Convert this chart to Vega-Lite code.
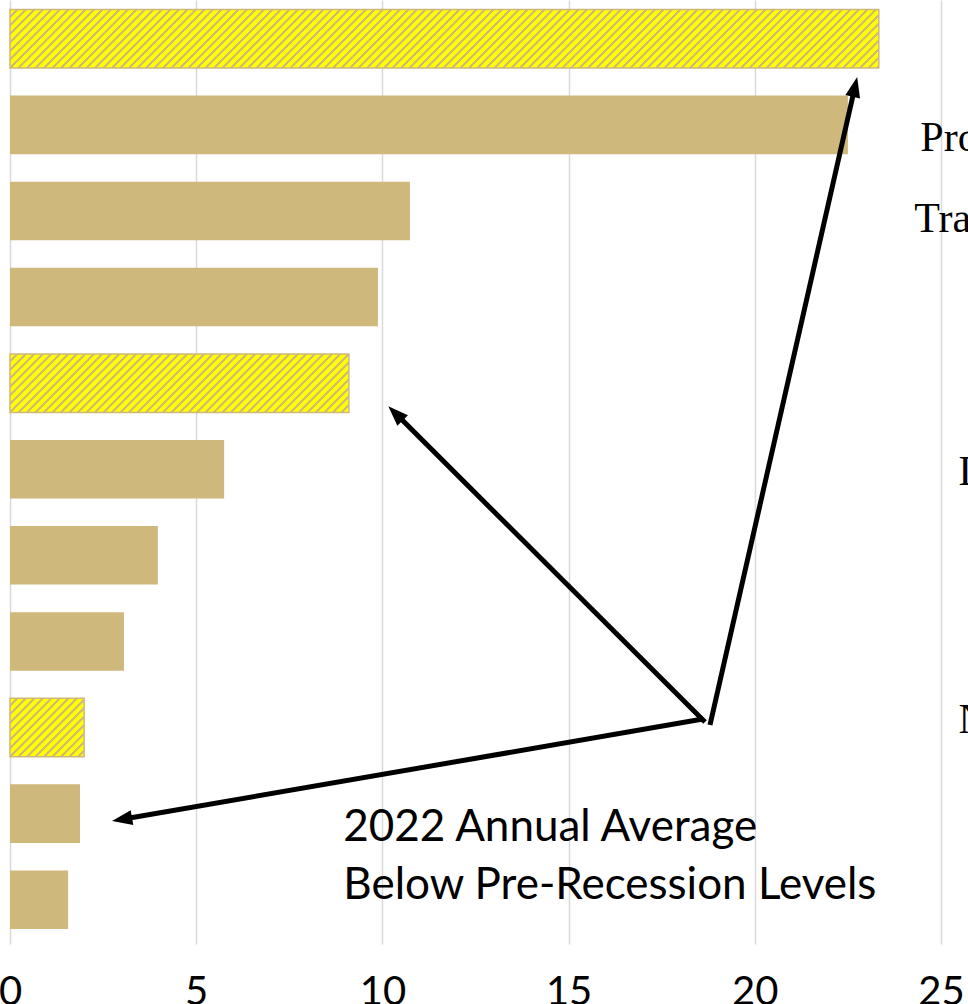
{
"$schema":"https://vega.github.io/schema/vega-lite/v6.json",
"width":931,"height":944,
"autosize":{"type":"none"},
"padding":{"left":10,"right":27,"top":0,"bottom":60},
"background":"white",
"config":{"view":{"stroke":null}},
"datasets":{
"bars":[
{"industry":"Leisure and Hospitality","value":23.33,"below":true},
{"industry":"Professional and Business Services","value":22.5,"below":false},
{"industry":"Trade, Transportation, and Utilities","value":10.74,"below":false},
{"industry":"Education and Health Services","value":9.88,"below":false},
{"industry":"Manufacturing","value":9.1,"below":true},
{"industry":"Construction","value":5.75,"below":false},
{"industry":"Financial Activities","value":3.97,"below":false},
{"industry":"Other Services","value":3.06,"below":false},
{"industry":"Government","value":1.99,"below":true},
{"industry":"Information","value":1.88,"below":false},
{"industry":"Natural Resources and Mining","value":1.56,"below":false}
],
"arrows":[
{"id":1,"x":18.797,"y":7.97,"x2":22.696,"y2":0.5461},
{"id":2,"x":18.663,"y":7.936,"x2":10.33,"y2":4.342},
{"id":3,"x":18.609,"y":7.901,"x2":2.978,"y2":9.069}
],
"notes":[
{"x":8.95,"row":9.3175,"text":"2022 Annual Average"},
{"x":8.95,"row":9.9911,"text":"Below Pre-Recession Levels"}
],
"sidelabels":[
{"x":24.444,"row":1.3034,"text":"Professional and Business Services"},
{"x":24.283,"row":2.2443,"text":"Trade, Transportation, and Utilities"},
{"x":25.47,"row":5.1828,"text":"Leisure and Hospitality"},
{"x":25.47,"row":8.0633,"text":"Natural Resources and Mining"}
]
},
"layer":[
{
"data":{"name":"bars"},
"mark":{"type":"bar","stroke":"#cfb87c"},
"encoding":{
"y":{"field":"industry","type":"nominal","sort":null,"axis":null,"scale":{"paddingInner":0.32,"paddingOuter":0.1423,"align":0.388}},
"x":{"field":"value","type":"quantitative","scale":{"domain":[0,25],"nice":false,"zero":true},
"axis":{"values":[0,5,10,15,20,25],"title":null,"domain":false,"ticks":false,"tickSize":0,"grid":true,"gridColor":"#d9d9d9","gridWidth":1.5,"labelFont":"Lato","labelFontSize":40,"labelColor":"#000000","labelPadding":28,"labelFlush":false,"labelOverlap":false,"labelBound":false}},
"strokeWidth":{"condition":{"test":"datum.below","value":1.5},"value":0},
"fill":{"condition":[
{"test":"datum.industry === 'Leisure and Hospitality'","value":{"gradient":"linear","x1":0,"y1":0,"x2":1.21744,"y2":0.08205,"stops":[
{"offset":0,"color":"#cfb87c"},{"offset":0.0008,"color":"#ffff00"},{"offset":0.0052,"color":"#ffff00"},{"offset":0.006,"color":"#cfb87c"},
{"offset":0.008,"color":"#cfb87c"},{"offset":0.0088,"color":"#ffff00"},{"offset":0.0132,"color":"#ffff00"},{"offset":0.014,"color":"#cfb87c"},
{"offset":0.016,"color":"#cfb87c"},{"offset":0.0168,"color":"#ffff00"},{"offset":0.0212,"color":"#ffff00"},{"offset":0.022,"color":"#cfb87c"},
{"offset":0.024,"color":"#cfb87c"},{"offset":0.0248,"color":"#ffff00"},{"offset":0.0292,"color":"#ffff00"},{"offset":0.03,"color":"#cfb87c"},
{"offset":0.032,"color":"#cfb87c"},{"offset":0.0328,"color":"#ffff00"},{"offset":0.0372,"color":"#ffff00"},{"offset":0.038,"color":"#cfb87c"},
{"offset":0.04,"color":"#cfb87c"},{"offset":0.0408,"color":"#ffff00"},{"offset":0.0452,"color":"#ffff00"},{"offset":0.046,"color":"#cfb87c"},
{"offset":0.048,"color":"#cfb87c"},{"offset":0.0488,"color":"#ffff00"},{"offset":0.0532,"color":"#ffff00"},{"offset":0.054,"color":"#cfb87c"},
{"offset":0.056,"color":"#cfb87c"},{"offset":0.0568,"color":"#ffff00"},{"offset":0.0612,"color":"#ffff00"},{"offset":0.062,"color":"#cfb87c"},
{"offset":0.064,"color":"#cfb87c"},{"offset":0.0648,"color":"#ffff00"},{"offset":0.0692,"color":"#ffff00"},{"offset":0.07,"color":"#cfb87c"},
{"offset":0.072,"color":"#cfb87c"},{"offset":0.0728,"color":"#ffff00"},{"offset":0.0772,"color":"#ffff00"},{"offset":0.078,"color":"#cfb87c"},
{"offset":0.08,"color":"#cfb87c"},{"offset":0.0808,"color":"#ffff00"},{"offset":0.0852,"color":"#ffff00"},{"offset":0.086,"color":"#cfb87c"},
{"offset":0.088,"color":"#cfb87c"},{"offset":0.0888,"color":"#ffff00"},{"offset":0.0932,"color":"#ffff00"},{"offset":0.094,"color":"#cfb87c"},
{"offset":0.096,"color":"#cfb87c"},{"offset":0.0968,"color":"#ffff00"},{"offset":0.1012,"color":"#ffff00"},{"offset":0.102,"color":"#cfb87c"},
{"offset":0.104,"color":"#cfb87c"},{"offset":0.1048,"color":"#ffff00"},{"offset":0.1092,"color":"#ffff00"},{"offset":0.11,"color":"#cfb87c"},
{"offset":0.112,"color":"#cfb87c"},{"offset":0.1128,"color":"#ffff00"},{"offset":0.1172,"color":"#ffff00"},{"offset":0.118,"color":"#cfb87c"},
{"offset":0.12,"color":"#cfb87c"},{"offset":0.1208,"color":"#ffff00"},{"offset":0.1252,"color":"#ffff00"},{"offset":0.126,"color":"#cfb87c"},
{"offset":0.128,"color":"#cfb87c"},{"offset":0.1288,"color":"#ffff00"},{"offset":0.1332,"color":"#ffff00"},{"offset":0.134,"color":"#cfb87c"},
{"offset":0.136,"color":"#cfb87c"},{"offset":0.1368,"color":"#ffff00"},{"offset":0.1412,"color":"#ffff00"},{"offset":0.142,"color":"#cfb87c"},
{"offset":0.144,"color":"#cfb87c"},{"offset":0.1448,"color":"#ffff00"},{"offset":0.1492,"color":"#ffff00"},{"offset":0.15,"color":"#cfb87c"},
{"offset":0.152,"color":"#cfb87c"},{"offset":0.1528,"color":"#ffff00"},{"offset":0.1572,"color":"#ffff00"},{"offset":0.158,"color":"#cfb87c"},
{"offset":0.16,"color":"#cfb87c"},{"offset":0.1608,"color":"#ffff00"},{"offset":0.1652,"color":"#ffff00"},{"offset":0.166,"color":"#cfb87c"},
{"offset":0.168,"color":"#cfb87c"},{"offset":0.1688,"color":"#ffff00"},{"offset":0.1732,"color":"#ffff00"},{"offset":0.174,"color":"#cfb87c"},
{"offset":0.176,"color":"#cfb87c"},{"offset":0.1768,"color":"#ffff00"},{"offset":0.1812,"color":"#ffff00"},{"offset":0.182,"color":"#cfb87c"},
{"offset":0.184,"color":"#cfb87c"},{"offset":0.1848,"color":"#ffff00"},{"offset":0.1892,"color":"#ffff00"},{"offset":0.19,"color":"#cfb87c"},
{"offset":0.192,"color":"#cfb87c"},{"offset":0.1928,"color":"#ffff00"},{"offset":0.1972,"color":"#ffff00"},{"offset":0.198,"color":"#cfb87c"},
{"offset":0.2,"color":"#cfb87c"},{"offset":0.2008,"color":"#ffff00"},{"offset":0.2052,"color":"#ffff00"},{"offset":0.206,"color":"#cfb87c"},
{"offset":0.208,"color":"#cfb87c"},{"offset":0.2088,"color":"#ffff00"},{"offset":0.2132,"color":"#ffff00"},{"offset":0.214,"color":"#cfb87c"},
{"offset":0.216,"color":"#cfb87c"},{"offset":0.2168,"color":"#ffff00"},{"offset":0.2212,"color":"#ffff00"},{"offset":0.222,"color":"#cfb87c"},
{"offset":0.224,"color":"#cfb87c"},{"offset":0.2248,"color":"#ffff00"},{"offset":0.2292,"color":"#ffff00"},{"offset":0.23,"color":"#cfb87c"},
{"offset":0.232,"color":"#cfb87c"},{"offset":0.2328,"color":"#ffff00"},{"offset":0.2372,"color":"#ffff00"},{"offset":0.238,"color":"#cfb87c"},
{"offset":0.24,"color":"#cfb87c"},{"offset":0.2408,"color":"#ffff00"},{"offset":0.2452,"color":"#ffff00"},{"offset":0.246,"color":"#cfb87c"},
{"offset":0.248,"color":"#cfb87c"},{"offset":0.2488,"color":"#ffff00"},{"offset":0.2532,"color":"#ffff00"},{"offset":0.254,"color":"#cfb87c"},
{"offset":0.256,"color":"#cfb87c"},{"offset":0.2568,"color":"#ffff00"},{"offset":0.2612,"color":"#ffff00"},{"offset":0.262,"color":"#cfb87c"},
{"offset":0.264,"color":"#cfb87c"},{"offset":0.2648,"color":"#ffff00"},{"offset":0.2692,"color":"#ffff00"},{"offset":0.27,"color":"#cfb87c"},
{"offset":0.272,"color":"#cfb87c"},{"offset":0.2728,"color":"#ffff00"},{"offset":0.2772,"color":"#ffff00"},{"offset":0.278,"color":"#cfb87c"},
{"offset":0.28,"color":"#cfb87c"},{"offset":0.2808,"color":"#ffff00"},{"offset":0.2852,"color":"#ffff00"},{"offset":0.286,"color":"#cfb87c"},
{"offset":0.288,"color":"#cfb87c"},{"offset":0.2888,"color":"#ffff00"},{"offset":0.2932,"color":"#ffff00"},{"offset":0.294,"color":"#cfb87c"},
{"offset":0.296,"color":"#cfb87c"},{"offset":0.2968,"color":"#ffff00"},{"offset":0.3012,"color":"#ffff00"},{"offset":0.302,"color":"#cfb87c"},
{"offset":0.304,"color":"#cfb87c"},{"offset":0.3048,"color":"#ffff00"},{"offset":0.3092,"color":"#ffff00"},{"offset":0.31,"color":"#cfb87c"},
{"offset":0.312,"color":"#cfb87c"},{"offset":0.3128,"color":"#ffff00"},{"offset":0.3172,"color":"#ffff00"},{"offset":0.318,"color":"#cfb87c"},
{"offset":0.32,"color":"#cfb87c"},{"offset":0.3208,"color":"#ffff00"},{"offset":0.3252,"color":"#ffff00"},{"offset":0.326,"color":"#cfb87c"},
{"offset":0.328,"color":"#cfb87c"},{"offset":0.3288,"color":"#ffff00"},{"offset":0.3332,"color":"#ffff00"},{"offset":0.334,"color":"#cfb87c"},
{"offset":0.336,"color":"#cfb87c"},{"offset":0.3368,"color":"#ffff00"},{"offset":0.3412,"color":"#ffff00"},{"offset":0.342,"color":"#cfb87c"},
{"offset":0.344,"color":"#cfb87c"},{"offset":0.3448,"color":"#ffff00"},{"offset":0.3492,"color":"#ffff00"},{"offset":0.35,"color":"#cfb87c"},
{"offset":0.352,"color":"#cfb87c"},{"offset":0.3528,"color":"#ffff00"},{"offset":0.3572,"color":"#ffff00"},{"offset":0.358,"color":"#cfb87c"},
{"offset":0.36,"color":"#cfb87c"},{"offset":0.3608,"color":"#ffff00"},{"offset":0.3652,"color":"#ffff00"},{"offset":0.366,"color":"#cfb87c"},
{"offset":0.368,"color":"#cfb87c"},{"offset":0.3688,"color":"#ffff00"},{"offset":0.3732,"color":"#ffff00"},{"offset":0.374,"color":"#cfb87c"},
{"offset":0.376,"color":"#cfb87c"},{"offset":0.3768,"color":"#ffff00"},{"offset":0.3812,"color":"#ffff00"},{"offset":0.382,"color":"#cfb87c"},
{"offset":0.384,"color":"#cfb87c"},{"offset":0.3848,"color":"#ffff00"},{"offset":0.3892,"color":"#ffff00"},{"offset":0.39,"color":"#cfb87c"},
{"offset":0.392,"color":"#cfb87c"},{"offset":0.3928,"color":"#ffff00"},{"offset":0.3972,"color":"#ffff00"},{"offset":0.398,"color":"#cfb87c"},
{"offset":0.4,"color":"#cfb87c"},{"offset":0.4008,"color":"#ffff00"},{"offset":0.4052,"color":"#ffff00"},{"offset":0.406,"color":"#cfb87c"},
{"offset":0.408,"color":"#cfb87c"},{"offset":0.4088,"color":"#ffff00"},{"offset":0.4132,"color":"#ffff00"},{"offset":0.414,"color":"#cfb87c"},
{"offset":0.416,"color":"#cfb87c"},{"offset":0.4168,"color":"#ffff00"},{"offset":0.4212,"color":"#ffff00"},{"offset":0.422,"color":"#cfb87c"},
{"offset":0.424,"color":"#cfb87c"},{"offset":0.4248,"color":"#ffff00"},{"offset":0.4292,"color":"#ffff00"},{"offset":0.43,"color":"#cfb87c"},
{"offset":0.432,"color":"#cfb87c"},{"offset":0.4328,"color":"#ffff00"},{"offset":0.4372,"color":"#ffff00"},{"offset":0.438,"color":"#cfb87c"},
{"offset":0.44,"color":"#cfb87c"},{"offset":0.4408,"color":"#ffff00"},{"offset":0.4452,"color":"#ffff00"},{"offset":0.446,"color":"#cfb87c"},
{"offset":0.448,"color":"#cfb87c"},{"offset":0.4488,"color":"#ffff00"},{"offset":0.4532,"color":"#ffff00"},{"offset":0.454,"color":"#cfb87c"},
{"offset":0.456,"color":"#cfb87c"},{"offset":0.4568,"color":"#ffff00"},{"offset":0.4612,"color":"#ffff00"},{"offset":0.462,"color":"#cfb87c"},
{"offset":0.464,"color":"#cfb87c"},{"offset":0.4648,"color":"#ffff00"},{"offset":0.4692,"color":"#ffff00"},{"offset":0.47,"color":"#cfb87c"},
{"offset":0.472,"color":"#cfb87c"},{"offset":0.4728,"color":"#ffff00"},{"offset":0.4772,"color":"#ffff00"},{"offset":0.478,"color":"#cfb87c"},
{"offset":0.48,"color":"#cfb87c"},{"offset":0.4808,"color":"#ffff00"},{"offset":0.4852,"color":"#ffff00"},{"offset":0.486,"color":"#cfb87c"},
{"offset":0.488,"color":"#cfb87c"},{"offset":0.4888,"color":"#ffff00"},{"offset":0.4932,"color":"#ffff00"},{"offset":0.494,"color":"#cfb87c"},
{"offset":0.496,"color":"#cfb87c"},{"offset":0.4968,"color":"#ffff00"},{"offset":0.5012,"color":"#ffff00"},{"offset":0.502,"color":"#cfb87c"},
{"offset":0.504,"color":"#cfb87c"},{"offset":0.5048,"color":"#ffff00"},{"offset":0.5092,"color":"#ffff00"},{"offset":0.51,"color":"#cfb87c"},
{"offset":0.512,"color":"#cfb87c"},{"offset":0.5128,"color":"#ffff00"},{"offset":0.5172,"color":"#ffff00"},{"offset":0.518,"color":"#cfb87c"},
{"offset":0.52,"color":"#cfb87c"},{"offset":0.5208,"color":"#ffff00"},{"offset":0.5252,"color":"#ffff00"},{"offset":0.526,"color":"#cfb87c"},
{"offset":0.528,"color":"#cfb87c"},{"offset":0.5288,"color":"#ffff00"},{"offset":0.5332,"color":"#ffff00"},{"offset":0.534,"color":"#cfb87c"},
{"offset":0.536,"color":"#cfb87c"},{"offset":0.5368,"color":"#ffff00"},{"offset":0.5412,"color":"#ffff00"},{"offset":0.542,"color":"#cfb87c"},
{"offset":0.544,"color":"#cfb87c"},{"offset":0.5448,"color":"#ffff00"},{"offset":0.5492,"color":"#ffff00"},{"offset":0.55,"color":"#cfb87c"},
{"offset":0.552,"color":"#cfb87c"},{"offset":0.5528,"color":"#ffff00"},{"offset":0.5572,"color":"#ffff00"},{"offset":0.558,"color":"#cfb87c"},
{"offset":0.56,"color":"#cfb87c"},{"offset":0.5608,"color":"#ffff00"},{"offset":0.5652,"color":"#ffff00"},{"offset":0.566,"color":"#cfb87c"},
{"offset":0.568,"color":"#cfb87c"},{"offset":0.5688,"color":"#ffff00"},{"offset":0.5732,"color":"#ffff00"},{"offset":0.574,"color":"#cfb87c"},
{"offset":0.576,"color":"#cfb87c"},{"offset":0.5768,"color":"#ffff00"},{"offset":0.5812,"color":"#ffff00"},{"offset":0.582,"color":"#cfb87c"},
{"offset":0.584,"color":"#cfb87c"},{"offset":0.5848,"color":"#ffff00"},{"offset":0.5892,"color":"#ffff00"},{"offset":0.59,"color":"#cfb87c"},
{"offset":0.592,"color":"#cfb87c"},{"offset":0.5928,"color":"#ffff00"},{"offset":0.5972,"color":"#ffff00"},{"offset":0.598,"color":"#cfb87c"},
{"offset":0.6,"color":"#cfb87c"},{"offset":0.6008,"color":"#ffff00"},{"offset":0.6052,"color":"#ffff00"},{"offset":0.606,"color":"#cfb87c"},
{"offset":0.608,"color":"#cfb87c"},{"offset":0.6088,"color":"#ffff00"},{"offset":0.6132,"color":"#ffff00"},{"offset":0.614,"color":"#cfb87c"},
{"offset":0.616,"color":"#cfb87c"},{"offset":0.6168,"color":"#ffff00"},{"offset":0.6212,"color":"#ffff00"},{"offset":0.622,"color":"#cfb87c"},
{"offset":0.624,"color":"#cfb87c"},{"offset":0.6248,"color":"#ffff00"},{"offset":0.6292,"color":"#ffff00"},{"offset":0.63,"color":"#cfb87c"},
{"offset":0.632,"color":"#cfb87c"},{"offset":0.6328,"color":"#ffff00"},{"offset":0.6372,"color":"#ffff00"},{"offset":0.638,"color":"#cfb87c"},
{"offset":0.64,"color":"#cfb87c"},{"offset":0.6408,"color":"#ffff00"},{"offset":0.6452,"color":"#ffff00"},{"offset":0.646,"color":"#cfb87c"},
{"offset":0.648,"color":"#cfb87c"},{"offset":0.6488,"color":"#ffff00"},{"offset":0.6532,"color":"#ffff00"},{"offset":0.654,"color":"#cfb87c"},
{"offset":0.656,"color":"#cfb87c"},{"offset":0.6568,"color":"#ffff00"},{"offset":0.6612,"color":"#ffff00"},{"offset":0.662,"color":"#cfb87c"},
{"offset":0.664,"color":"#cfb87c"},{"offset":0.6648,"color":"#ffff00"},{"offset":0.6692,"color":"#ffff00"},{"offset":0.67,"color":"#cfb87c"},
{"offset":0.672,"color":"#cfb87c"},{"offset":0.6728,"color":"#ffff00"},{"offset":0.6772,"color":"#ffff00"},{"offset":0.678,"color":"#cfb87c"},
{"offset":0.68,"color":"#cfb87c"},{"offset":0.6808,"color":"#ffff00"},{"offset":0.6852,"color":"#ffff00"},{"offset":0.686,"color":"#cfb87c"},
{"offset":0.688,"color":"#cfb87c"},{"offset":0.6888,"color":"#ffff00"},{"offset":0.6932,"color":"#ffff00"},{"offset":0.694,"color":"#cfb87c"},
{"offset":0.696,"color":"#cfb87c"},{"offset":0.6968,"color":"#ffff00"},{"offset":0.7012,"color":"#ffff00"},{"offset":0.702,"color":"#cfb87c"},
{"offset":0.704,"color":"#cfb87c"},{"offset":0.7048,"color":"#ffff00"},{"offset":0.7092,"color":"#ffff00"},{"offset":0.71,"color":"#cfb87c"},
{"offset":0.712,"color":"#cfb87c"},{"offset":0.7128,"color":"#ffff00"},{"offset":0.7172,"color":"#ffff00"},{"offset":0.718,"color":"#cfb87c"},
{"offset":0.72,"color":"#cfb87c"},{"offset":0.7208,"color":"#ffff00"},{"offset":0.7252,"color":"#ffff00"},{"offset":0.726,"color":"#cfb87c"},
{"offset":0.728,"color":"#cfb87c"},{"offset":0.7288,"color":"#ffff00"},{"offset":0.7332,"color":"#ffff00"},{"offset":0.734,"color":"#cfb87c"},
{"offset":0.736,"color":"#cfb87c"},{"offset":0.7368,"color":"#ffff00"},{"offset":0.7412,"color":"#ffff00"},{"offset":0.742,"color":"#cfb87c"},
{"offset":0.744,"color":"#cfb87c"},{"offset":0.7448,"color":"#ffff00"},{"offset":0.7492,"color":"#ffff00"},{"offset":0.75,"color":"#cfb87c"},
{"offset":0.752,"color":"#cfb87c"},{"offset":0.7528,"color":"#ffff00"},{"offset":0.7572,"color":"#ffff00"},{"offset":0.758,"color":"#cfb87c"},
{"offset":0.76,"color":"#cfb87c"},{"offset":0.7608,"color":"#ffff00"},{"offset":0.7652,"color":"#ffff00"},{"offset":0.766,"color":"#cfb87c"},
{"offset":0.768,"color":"#cfb87c"},{"offset":0.7688,"color":"#ffff00"},{"offset":0.7732,"color":"#ffff00"},{"offset":0.774,"color":"#cfb87c"},
{"offset":0.776,"color":"#cfb87c"},{"offset":0.7768,"color":"#ffff00"},{"offset":0.7812,"color":"#ffff00"},{"offset":0.782,"color":"#cfb87c"},
{"offset":0.784,"color":"#cfb87c"},{"offset":0.7848,"color":"#ffff00"},{"offset":0.7892,"color":"#ffff00"},{"offset":0.79,"color":"#cfb87c"},
{"offset":0.792,"color":"#cfb87c"},{"offset":0.7928,"color":"#ffff00"},{"offset":0.7972,"color":"#ffff00"},{"offset":0.798,"color":"#cfb87c"},
{"offset":0.8,"color":"#cfb87c"},{"offset":0.8008,"color":"#ffff00"},{"offset":0.8052,"color":"#ffff00"},{"offset":0.806,"color":"#cfb87c"},
{"offset":0.808,"color":"#cfb87c"},{"offset":0.8088,"color":"#ffff00"},{"offset":0.8132,"color":"#ffff00"},{"offset":0.814,"color":"#cfb87c"},
{"offset":0.816,"color":"#cfb87c"},{"offset":0.8168,"color":"#ffff00"},{"offset":0.8212,"color":"#ffff00"},{"offset":0.822,"color":"#cfb87c"},
{"offset":0.824,"color":"#cfb87c"},{"offset":0.8248,"color":"#ffff00"},{"offset":0.8292,"color":"#ffff00"},{"offset":0.83,"color":"#cfb87c"},
{"offset":0.832,"color":"#cfb87c"},{"offset":0.8328,"color":"#ffff00"},{"offset":0.8372,"color":"#ffff00"},{"offset":0.838,"color":"#cfb87c"},
{"offset":0.84,"color":"#cfb87c"},{"offset":0.8408,"color":"#ffff00"},{"offset":0.8452,"color":"#ffff00"},{"offset":0.846,"color":"#cfb87c"},
{"offset":0.848,"color":"#cfb87c"},{"offset":0.8488,"color":"#ffff00"},{"offset":0.8532,"color":"#ffff00"},{"offset":0.854,"color":"#cfb87c"},
{"offset":0.856,"color":"#cfb87c"},{"offset":0.8568,"color":"#ffff00"},{"offset":0.8612,"color":"#ffff00"},{"offset":0.862,"color":"#cfb87c"},
{"offset":0.864,"color":"#cfb87c"},{"offset":0.8648,"color":"#ffff00"},{"offset":0.8692,"color":"#ffff00"},{"offset":0.87,"color":"#cfb87c"},
{"offset":0.872,"color":"#cfb87c"},{"offset":0.8728,"color":"#ffff00"},{"offset":0.8772,"color":"#ffff00"},{"offset":0.878,"color":"#cfb87c"}
]}},
{"test":"datum.industry === 'Manufacturing'","value":{"gradient":"linear","x1":0,"y1":0,"x2":1.21771,"y2":0.21038,"stops":[
{"offset":0,"color":"#cfb87c"},{"offset":0.002,"color":"#ffff00"},{"offset":0.013,"color":"#ffff00"},{"offset":0.015,"color":"#cfb87c"},
{"offset":0.02,"color":"#cfb87c"},{"offset":0.022,"color":"#ffff00"},{"offset":0.033,"color":"#ffff00"},{"offset":0.035,"color":"#cfb87c"},
{"offset":0.04,"color":"#cfb87c"},{"offset":0.042,"color":"#ffff00"},{"offset":0.053,"color":"#ffff00"},{"offset":0.055,"color":"#cfb87c"},
{"offset":0.06,"color":"#cfb87c"},{"offset":0.062,"color":"#ffff00"},{"offset":0.073,"color":"#ffff00"},{"offset":0.075,"color":"#cfb87c"},
{"offset":0.08,"color":"#cfb87c"},{"offset":0.082,"color":"#ffff00"},{"offset":0.093,"color":"#ffff00"},{"offset":0.095,"color":"#cfb87c"},
{"offset":0.1,"color":"#cfb87c"},{"offset":0.102,"color":"#ffff00"},{"offset":0.113,"color":"#ffff00"},{"offset":0.115,"color":"#cfb87c"},
{"offset":0.12,"color":"#cfb87c"},{"offset":0.122,"color":"#ffff00"},{"offset":0.133,"color":"#ffff00"},{"offset":0.135,"color":"#cfb87c"},
{"offset":0.14,"color":"#cfb87c"},{"offset":0.142,"color":"#ffff00"},{"offset":0.153,"color":"#ffff00"},{"offset":0.155,"color":"#cfb87c"},
{"offset":0.16,"color":"#cfb87c"},{"offset":0.162,"color":"#ffff00"},{"offset":0.173,"color":"#ffff00"},{"offset":0.175,"color":"#cfb87c"},
{"offset":0.18,"color":"#cfb87c"},{"offset":0.182,"color":"#ffff00"},{"offset":0.193,"color":"#ffff00"},{"offset":0.195,"color":"#cfb87c"},
{"offset":0.2,"color":"#cfb87c"},{"offset":0.202,"color":"#ffff00"},{"offset":0.213,"color":"#ffff00"},{"offset":0.215,"color":"#cfb87c"},
{"offset":0.22,"color":"#cfb87c"},{"offset":0.222,"color":"#ffff00"},{"offset":0.233,"color":"#ffff00"},{"offset":0.235,"color":"#cfb87c"},
{"offset":0.24,"color":"#cfb87c"},{"offset":0.242,"color":"#ffff00"},{"offset":0.253,"color":"#ffff00"},{"offset":0.255,"color":"#cfb87c"},
{"offset":0.26,"color":"#cfb87c"},{"offset":0.262,"color":"#ffff00"},{"offset":0.273,"color":"#ffff00"},{"offset":0.275,"color":"#cfb87c"},
{"offset":0.28,"color":"#cfb87c"},{"offset":0.282,"color":"#ffff00"},{"offset":0.293,"color":"#ffff00"},{"offset":0.295,"color":"#cfb87c"},
{"offset":0.3,"color":"#cfb87c"},{"offset":0.302,"color":"#ffff00"},{"offset":0.313,"color":"#ffff00"},{"offset":0.315,"color":"#cfb87c"},
{"offset":0.32,"color":"#cfb87c"},{"offset":0.322,"color":"#ffff00"},{"offset":0.333,"color":"#ffff00"},{"offset":0.335,"color":"#cfb87c"},
{"offset":0.34,"color":"#cfb87c"},{"offset":0.342,"color":"#ffff00"},{"offset":0.353,"color":"#ffff00"},{"offset":0.355,"color":"#cfb87c"},
{"offset":0.36,"color":"#cfb87c"},{"offset":0.362,"color":"#ffff00"},{"offset":0.373,"color":"#ffff00"},{"offset":0.375,"color":"#cfb87c"},
{"offset":0.38,"color":"#cfb87c"},{"offset":0.382,"color":"#ffff00"},{"offset":0.393,"color":"#ffff00"},{"offset":0.395,"color":"#cfb87c"},
{"offset":0.4,"color":"#cfb87c"},{"offset":0.402,"color":"#ffff00"},{"offset":0.413,"color":"#ffff00"},{"offset":0.415,"color":"#cfb87c"},
{"offset":0.42,"color":"#cfb87c"},{"offset":0.422,"color":"#ffff00"},{"offset":0.433,"color":"#ffff00"},{"offset":0.435,"color":"#cfb87c"},
{"offset":0.44,"color":"#cfb87c"},{"offset":0.442,"color":"#ffff00"},{"offset":0.453,"color":"#ffff00"},{"offset":0.455,"color":"#cfb87c"},
{"offset":0.46,"color":"#cfb87c"},{"offset":0.462,"color":"#ffff00"},{"offset":0.473,"color":"#ffff00"},{"offset":0.475,"color":"#cfb87c"},
{"offset":0.48,"color":"#cfb87c"},{"offset":0.482,"color":"#ffff00"},{"offset":0.493,"color":"#ffff00"},{"offset":0.495,"color":"#cfb87c"},
{"offset":0.5,"color":"#cfb87c"},{"offset":0.502,"color":"#ffff00"},{"offset":0.513,"color":"#ffff00"},{"offset":0.515,"color":"#cfb87c"},
{"offset":0.52,"color":"#cfb87c"},{"offset":0.522,"color":"#ffff00"},{"offset":0.533,"color":"#ffff00"},{"offset":0.535,"color":"#cfb87c"},
{"offset":0.54,"color":"#cfb87c"},{"offset":0.542,"color":"#ffff00"},{"offset":0.553,"color":"#ffff00"},{"offset":0.555,"color":"#cfb87c"},
{"offset":0.56,"color":"#cfb87c"},{"offset":0.562,"color":"#ffff00"},{"offset":0.573,"color":"#ffff00"},{"offset":0.575,"color":"#cfb87c"},
{"offset":0.58,"color":"#cfb87c"},{"offset":0.582,"color":"#ffff00"},{"offset":0.593,"color":"#ffff00"},{"offset":0.595,"color":"#cfb87c"},
{"offset":0.6,"color":"#cfb87c"},{"offset":0.602,"color":"#ffff00"},{"offset":0.613,"color":"#ffff00"},{"offset":0.615,"color":"#cfb87c"},
{"offset":0.62,"color":"#cfb87c"},{"offset":0.622,"color":"#ffff00"},{"offset":0.633,"color":"#ffff00"},{"offset":0.635,"color":"#cfb87c"},
{"offset":0.64,"color":"#cfb87c"},{"offset":0.642,"color":"#ffff00"},{"offset":0.653,"color":"#ffff00"},{"offset":0.655,"color":"#cfb87c"},
{"offset":0.66,"color":"#cfb87c"},{"offset":0.662,"color":"#ffff00"},{"offset":0.673,"color":"#ffff00"},{"offset":0.675,"color":"#cfb87c"},
{"offset":0.68,"color":"#cfb87c"},{"offset":0.682,"color":"#ffff00"},{"offset":0.693,"color":"#ffff00"},{"offset":0.695,"color":"#cfb87c"},
{"offset":0.7,"color":"#cfb87c"},{"offset":0.702,"color":"#ffff00"},{"offset":0.713,"color":"#ffff00"},{"offset":0.715,"color":"#cfb87c"},
{"offset":0.72,"color":"#cfb87c"},{"offset":0.722,"color":"#ffff00"},{"offset":0.733,"color":"#ffff00"},{"offset":0.735,"color":"#cfb87c"},
{"offset":0.74,"color":"#cfb87c"},{"offset":0.742,"color":"#ffff00"},{"offset":0.753,"color":"#ffff00"},{"offset":0.755,"color":"#cfb87c"},
{"offset":0.76,"color":"#cfb87c"},{"offset":0.762,"color":"#ffff00"},{"offset":0.773,"color":"#ffff00"},{"offset":0.775,"color":"#cfb87c"},
{"offset":0.78,"color":"#cfb87c"},{"offset":0.782,"color":"#ffff00"},{"offset":0.793,"color":"#ffff00"},{"offset":0.795,"color":"#cfb87c"},
{"offset":0.8,"color":"#cfb87c"},{"offset":0.802,"color":"#ffff00"},{"offset":0.813,"color":"#ffff00"},{"offset":0.815,"color":"#cfb87c"},
{"offset":0.82,"color":"#cfb87c"},{"offset":0.822,"color":"#ffff00"},{"offset":0.833,"color":"#ffff00"},{"offset":0.835,"color":"#cfb87c"},
{"offset":0.84,"color":"#cfb87c"},{"offset":0.842,"color":"#ffff00"},{"offset":0.853,"color":"#ffff00"},{"offset":0.855,"color":"#cfb87c"},
{"offset":0.86,"color":"#cfb87c"},{"offset":0.862,"color":"#ffff00"},{"offset":0.873,"color":"#ffff00"},{"offset":0.875,"color":"#cfb87c"},
{"offset":0.88,"color":"#cfb87c"},{"offset":0.882,"color":"#ffff00"},{"offset":0.893,"color":"#ffff00"},{"offset":0.895,"color":"#cfb87c"},
{"offset":0.9,"color":"#cfb87c"},{"offset":0.902,"color":"#ffff00"},{"offset":0.913,"color":"#ffff00"},{"offset":0.915,"color":"#cfb87c"},
{"offset":0.92,"color":"#cfb87c"},{"offset":0.922,"color":"#ffff00"},{"offset":0.933,"color":"#ffff00"},{"offset":0.935,"color":"#cfb87c"}
]}},
{"test":"datum.industry === 'Government'","value":{"gradient":"linear","x1":0,"y1":0,"x2":1.41242,"y2":1.11602,"stops":[
{"offset":0,"color":"#cfb87c"},{"offset":0.005,"color":"#ffff00"},{"offset":0.0325,"color":"#ffff00"},{"offset":0.0375,"color":"#cfb87c"},
{"offset":0.05,"color":"#cfb87c"},{"offset":0.055,"color":"#ffff00"},{"offset":0.0825,"color":"#ffff00"},{"offset":0.0875,"color":"#cfb87c"},
{"offset":0.1,"color":"#cfb87c"},{"offset":0.105,"color":"#ffff00"},{"offset":0.1325,"color":"#ffff00"},{"offset":0.1375,"color":"#cfb87c"},
{"offset":0.15,"color":"#cfb87c"},{"offset":0.155,"color":"#ffff00"},{"offset":0.1825,"color":"#ffff00"},{"offset":0.1875,"color":"#cfb87c"},
{"offset":0.2,"color":"#cfb87c"},{"offset":0.205,"color":"#ffff00"},{"offset":0.2325,"color":"#ffff00"},{"offset":0.2375,"color":"#cfb87c"},
{"offset":0.25,"color":"#cfb87c"},{"offset":0.255,"color":"#ffff00"},{"offset":0.2825,"color":"#ffff00"},{"offset":0.2875,"color":"#cfb87c"},
{"offset":0.3,"color":"#cfb87c"},{"offset":0.305,"color":"#ffff00"},{"offset":0.3325,"color":"#ffff00"},{"offset":0.3375,"color":"#cfb87c"},
{"offset":0.35,"color":"#cfb87c"},{"offset":0.355,"color":"#ffff00"},{"offset":0.3825,"color":"#ffff00"},{"offset":0.3875,"color":"#cfb87c"},
{"offset":0.4,"color":"#cfb87c"},{"offset":0.405,"color":"#ffff00"},{"offset":0.4325,"color":"#ffff00"},{"offset":0.4375,"color":"#cfb87c"},
{"offset":0.45,"color":"#cfb87c"},{"offset":0.455,"color":"#ffff00"},{"offset":0.4825,"color":"#ffff00"},{"offset":0.4875,"color":"#cfb87c"},
{"offset":0.5,"color":"#cfb87c"},{"offset":0.505,"color":"#ffff00"},{"offset":0.5325,"color":"#ffff00"},{"offset":0.5375,"color":"#cfb87c"},
{"offset":0.55,"color":"#cfb87c"},{"offset":0.555,"color":"#ffff00"},{"offset":0.5825,"color":"#ffff00"},{"offset":0.5875,"color":"#cfb87c"},
{"offset":0.6,"color":"#cfb87c"},{"offset":0.605,"color":"#ffff00"},{"offset":0.6325,"color":"#ffff00"},{"offset":0.6375,"color":"#cfb87c"},
{"offset":0.65,"color":"#cfb87c"},{"offset":0.655,"color":"#ffff00"},{"offset":0.6825,"color":"#ffff00"},{"offset":0.6875,"color":"#cfb87c"},
{"offset":0.7,"color":"#cfb87c"},{"offset":0.705,"color":"#ffff00"},{"offset":0.7325,"color":"#ffff00"},{"offset":0.7375,"color":"#cfb87c"},
{"offset":0.75,"color":"#cfb87c"},{"offset":0.755,"color":"#ffff00"},{"offset":0.7825,"color":"#ffff00"},{"offset":0.7875,"color":"#cfb87c"}
]}}
],"value":"#cfb87c"}
}
},
{
"layer":[
{
"data":{"name":"arrows"},
"mark":{"type":"rule","color":"#000000","strokeWidth":5,"strokeCap":"butt"},
"encoding":{
"x":{"field":"x","type":"quantitative","scale":{"domain":[0,25],"nice":false},"axis":null},
"y":{"field":"y","type":"quantitative","scale":{"domain":[-0.4504,10.5142],"reverse":true,"nice":false,"zero":false},"axis":null},
"x2":{"field":"x2"},
"y2":{"field":"y2"}
}
},
{
"data":{"name":"arrows"},
"mark":{"type":"point","shape":"M0,-0.6L-0.5,0.75L0.5,0.75Z","size":900,"filled":true,"color":"#000000","opacity":1,"strokeWidth":0},
"encoding":{
"x":{"field":"x2","type":"quantitative","scale":{"domain":[0,25],"nice":false},"axis":null},
"y":{"field":"y2","type":"quantitative","scale":{"domain":[-0.4504,10.5142],"reverse":true,"nice":false,"zero":false},"axis":null},
"angle":{"condition":[{"test":"datum.id === 1","value":12.8},{"test":"datum.id === 2","value":314.9}],"value":260.2}
}
},
{
"data":{"name":"notes"},
"mark":{"type":"text","font":"Lato","fontSize":44,"color":"#000000","align":"left","baseline":"alphabetic"},
"encoding":{
"x":{"field":"x","type":"quantitative","scale":{"domain":[0,25],"nice":false},"axis":null},
"y":{"field":"row","type":"quantitative","scale":{"domain":[-0.4504,10.5142],"reverse":true,"nice":false,"zero":false},"axis":null},
"text":{"field":"text"}
}
},
{
"data":{"name":"sidelabels"},
"mark":{"type":"text","font":"Liberation Serif","fontSize":42,"color":"#000000","align":"left","baseline":"alphabetic"},
"encoding":{
"x":{"field":"x","type":"quantitative","scale":{"domain":[0,25],"nice":false},"axis":null},
"y":{"field":"row","type":"quantitative","scale":{"domain":[-0.4504,10.5142],"reverse":true,"nice":false,"zero":false},"axis":null},
"text":{"field":"text"}
}
}
]
}
],
"resolve":{"scale":{"y":"independent"},"axis":{"x":"independent"}}
}
